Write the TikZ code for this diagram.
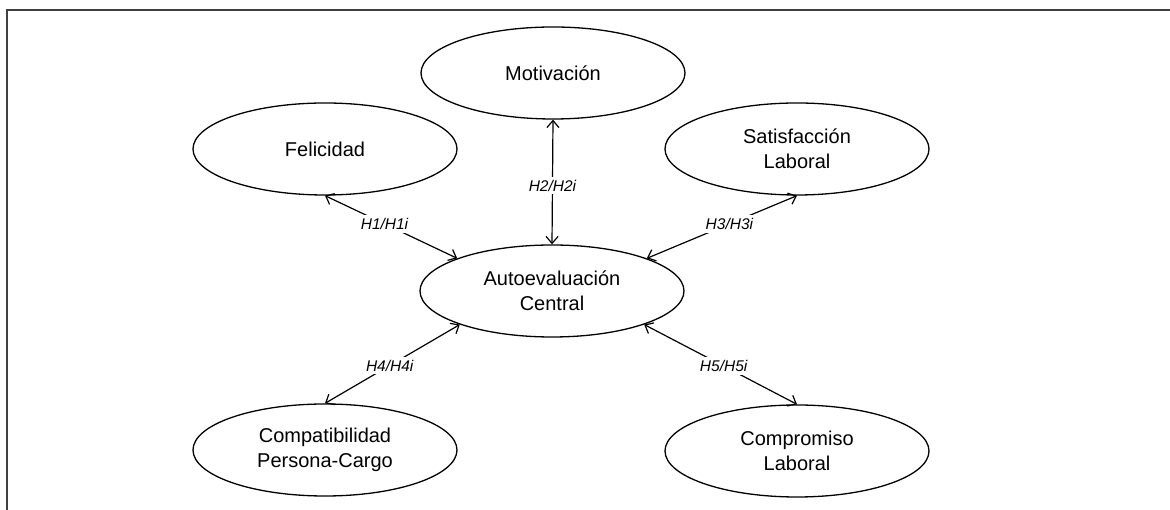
\documentclass[tikz,border=0pt]{standalone}
\usepackage{fontspec}
\setmainfont{Liberation Sans}
\usetikzlibrary{arrows.meta,shapes.geometric}
\begin{document}
\begin{tikzpicture}[x=1pt,y=1pt,
  construct/.style={draw, line width=1.3pt, ellipse, inner sep=0pt,
    minimum width=264pt, minimum height=92pt, align=center,
    font=\fontsize{20}{25}\selectfont},
  link/.style={line width=1.2pt, {Straight Barb[length=7pt,width=12pt,line width=1.2pt]}-{Straight Barb[length=7pt,width=12pt,line width=1.2pt]}},
  hyp/.style={fill=white, inner sep=3pt, font=\fontsize{15.5}{18}\selectfont\itshape}]
  \useasboundingbox (0,0) rectangle (1170,510);
  % frame
  \draw[black!75, line width=1.6pt] (7,-5) -- (7,500) -- (1175,500);

  % constructs
  \node[construct] (mot)   at (553,437) {Motivaci\'on};
  \node[construct] (fel)   at (325,361) {Felicidad};
  \node[construct] (sat)   at (797,361) {Satisfacci\'on\\Laboral};
  \node[construct] (auto)  at (552,219) {Autoevaluaci\'on\\Central};
  \node[construct] (comp)  at (325,60)  {Compatibilidad\\Persona-Cargo};
  \node[construct] (compr) at (797,59)  {Compromiso\\Laboral};

  % hypotheses
  \draw[link] (fel.south)   -- node[hyp, pos=0.45] {H1/H1i} (auto.161);
  \draw[link] (mot.south)   -- node[hyp, pos=0.53] {H2/H2i} (auto.north);
  \draw[link] (sat.south)   -- node[hyp, pos=0.45] {H3/H3i} (auto.19);
  \draw[link] (auto.200)    -- node[hyp, pos=0.52] {H4/H4i} (comp.north);
  \draw[link] (auto.340)    -- node[hyp, pos=0.52] {H5/H5i} (compr.north);
\end{tikzpicture}
\end{document}
